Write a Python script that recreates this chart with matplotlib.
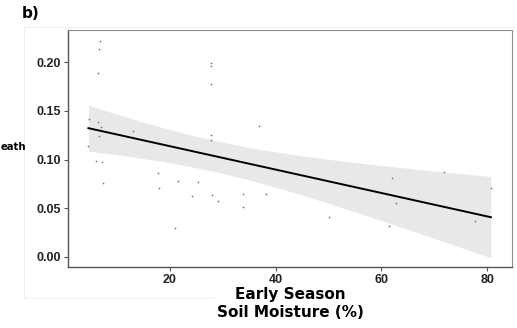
import numpy as np
import matplotlib
matplotlib.use('Agg')
import matplotlib.pyplot as plt
from matplotlib.lines import Line2D

# early season soil moisture (%) and the response
moisture = [6.87, 6.55, 6.5, 4.75, 6.5, 7.0, 6.63, 12.96, 4.61, 5.99, 7.19, 7.31,
            17.85, 18.04, 21.56, 21.05, 27.78, 27.78, 27.78, 36.87, 27.78, 27.78,
            25.27, 24.14, 28.02, 29.1, 33.8, 33.8, 38.14, 62.05, 62.75, 50.19,
            61.36, 71.9, 80.7, 77.7]
response = [0.2218, 0.2139, 0.1886, 0.1414, 0.1383, 0.1338, 0.1242, 0.1297, 0.1143,
            0.0983, 0.0975, 0.0763, 0.0859, 0.0705, 0.0783, 0.0295, 0.1989, 0.1958,
            0.1776, 0.1345, 0.1249, 0.1201, 0.0770, 0.0629, 0.0637, 0.0578, 0.0647,
            0.0510, 0.0650, 0.0814, 0.0554, 0.0408, 0.0321, 0.0870, 0.0711, 0.0367]

x_ticks = [20, 40, 60, 80]
y_ticks = [0.00, 0.05, 0.10, 0.15, 0.20]

T_CRIT = 2.03  # t(0.975, df=34)


def lm_band(x, y, grid):
    x = np.asarray(x)
    y = np.asarray(y)
    slope, icpt = np.polyfit(x, y, 1)
    resid = y - (icpt + slope * x)
    n = len(x)
    s = np.sqrt(np.sum(resid ** 2) / (n - 2))
    sxx = np.sum((x - x.mean()) ** 2)
    fit = icpt + slope * grid
    half = T_CRIT * s * np.sqrt(1.0 / n + (grid - x.mean()) ** 2 / sxx)
    return fit, fit - half, fit + half


W, H = 517.0, 328.0
fig = plt.figure(figsize=(W / 100, H / 100), dpi=100)

# faint outer frame of the panel (broken by the axis title at the bottom)
frame = '#f0f0f0'
fig.lines.append(Line2D([24 / W, 1], [1 - 27 / H] * 2, transform=fig.transFigure, color=frame, lw=0.8))
fig.lines.append(Line2D([24 / W] * 2, [1 - 27 / H, 1 - 298 / H], transform=fig.transFigure, color=frame, lw=0.8))
fig.lines.append(Line2D([24 / W, 213 / W], [1 - 298 / H] * 2, transform=fig.transFigure, color=frame, lw=0.8))

ax = fig.add_axes([68 / W, 61 / H, 444 / W, 237 / H])

grid = np.linspace(min(moisture), max(moisture), 100)
fit, lo, hi = lm_band(moisture, response, grid)
ax.fill_between(grid, lo, hi, color='#e8e8e8', linewidth=0)
ax.plot(grid, fit, color='black', linewidth=1.4)
ax.scatter(moisture, response, s=1.5, color='#777777', linewidths=0)

ax.set_xlim(0.75, 84.7)
ax.set_ylim(-0.0103, 0.2331)
ax.set_xticks(x_ticks)
ax.set_yticks(y_ticks)
ax.set_yticklabels(['%.2f' % v for v in y_ticks])

for side in ['top', 'right']:
    ax.spines[side].set_color('#8c8c8c')
for side in ['left', 'bottom']:
    ax.spines[side].set_color('#555555')
    ax.spines[side].set_linewidth(1.0)
ax.tick_params(length=3, width=0.8, color='#555555', labelcolor='#222222', pad=2)
for lab in ax.get_xticklabels() + ax.get_yticklabels():
    lab.set_fontfamily('Liberation Sans')
    lab.set_fontweight('bold')
    lab.set_fontsize(9)

ax.set_xlabel('Early Season\nSoil Moisture (%)', fontsize=11, fontweight='bold',
              family='DejaVu Sans', linespacing=1.2, labelpad=1)
fig.text(0.5 / W, 1 - 147 / H, 'eath', ha='left', va='center', fontsize=7.3,
         fontweight='bold', family='DejaVu Sans')
fig.text(22 / W, 1 - 13 / H, 'b)', ha='left', va='center', fontsize=11,
         fontweight='bold', family='DejaVu Sans')

fig.savefig('out.png', dpi=100)
